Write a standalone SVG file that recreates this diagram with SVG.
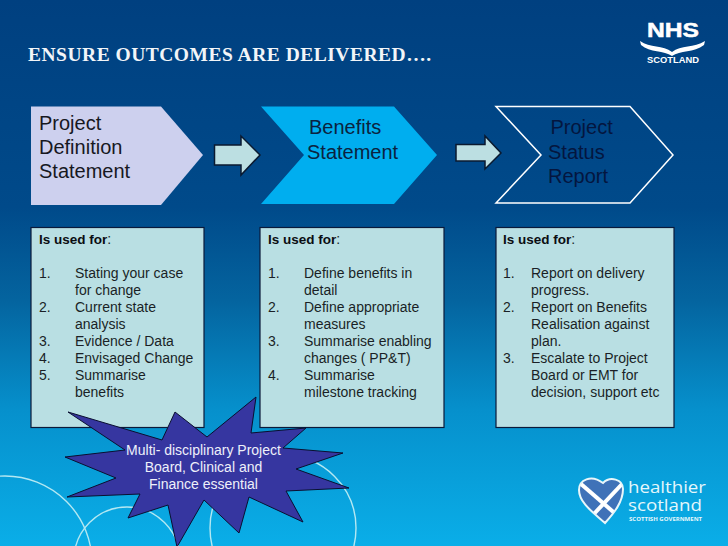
<svg xmlns="http://www.w3.org/2000/svg" width="728" height="546" viewBox="0 0 728 546">
<defs>
<linearGradient id="bg" x1="0" y1="0" x2="0" y2="1">
<stop offset="0" stop-color="#004080"/>
<stop offset="0.38" stop-color="#004a8a"/>
<stop offset="0.55" stop-color="#04649f"/>
<stop offset="0.75" stop-color="#0690cc"/>
<stop offset="1" stop-color="#0aaee8"/>
</linearGradient>
<clipPath id="heartClip"><path d="M605,523 C594,513 579,503 579,490 C579,480 591,474 603,483 C610,476 623,479 623,489 C623,502 614,513 605,523 Z"/></clipPath>
</defs>
<style>
.sans{font-family:"Liberation Sans",Arial,sans-serif}
.box{fill:#b9dfe3;stroke:#0a1a3a;stroke-width:1.2}
.body{font-size:14px;fill:#1a1f26}
.big{font-size:20px}
.arrow{fill:#bcdfe2;stroke:#0a1a30;stroke-width:1.5;stroke-linejoin:miter}
.ring{fill:none;stroke:#b4e8f2;stroke-width:1.4}
.star{font-size:14px;fill:#eef0fa;text-anchor:middle}
</style>
<rect width="728" height="546" fill="url(#bg)"/>
<g id="rings">
<circle class="ring" cx="5" cy="563" r="87"/>
<circle class="ring" cx="127" cy="560" r="53"/>
<circle class="ring" cx="283" cy="528" r="73"/>
</g>
<text id="title" x="28" y="61" font-family="Liberation Serif,serif" font-weight="bold" font-size="19.500" fill="#f2f5f8" textLength="403" lengthAdjust="spacing">ENSURE OUTCOMES ARE DELIVERED….</text>
<g id="nhs-logo" fill="#fff" class="sans">
<text x="647" y="37" font-size="21" font-weight="bold" textLength="52" lengthAdjust="spacingAndGlyphs" stroke="#fff" stroke-width="0.5">NHS</text>
<path d="M640,41 C650,48 663,45 672,52 C681,45 694,48 705,41 L704,45 C694,53 680,50 672,56 C664,50 650,53 641,45 Z"/>
<text x="647" y="63" font-size="8.600" font-weight="bold" textLength="52" lengthAdjust="spacingAndGlyphs">SCOTLAND</text>
</g>
<g id="node-project-definition">
<path d="M31,106.500 H161 L203,155 L161,205 H31 Z" fill="#cdd0ee"/>
<g class="sans big" fill="#17181f"><text x="39" y="130">Project</text><text x="39" y="154">Definition</text><text x="39" y="178">Statement</text></g>
</g>
<g id="node-benefits">
<path d="M261,106.500 H394 L437,155 L394,204 H261 L304,155 Z" fill="#00aeef"/>
<g class="sans big" fill="#0b2340"><text x="309" y="134">Benefits</text><text x="307" y="159">Statement</text></g>
</g>
<g id="node-status">
<path d="M496,106.500 H630 L673,155 L630,203 H496 L541,155 Z" fill="none" stroke="#fff" stroke-width="1.500"/>
<g class="sans big" fill="#04163f"><text x="550.500" y="134">Project</text><text x="548" y="159">Status</text><text x="548" y="183">Report</text></g>
</g>
<g id="connectors">
<path class="arrow" d="M214.500,145 H241 V136 L260,155 L241,175 V165 H214.500 Z"/>
<path class="arrow" d="M456,144.500 H485 V136 L501,153 L485,169 V161 H456 Z"/>
</g>
<g id="box-1" class="sans">
<rect class="box" x="31" y="227.500" width="173" height="200"/>
<g class="body">
<text x="39" y="244"><tspan font-weight="bold" fill="#0b0d12" font-size="13.500">Is used for</tspan>:</text>
<text x="39" y="278">1.</text><text x="75" y="278">Stating your case</text>
<text x="75" y="295">for change</text>
<text x="39" y="312">2.</text><text x="75" y="312">Current state</text>
<text x="75" y="329">analysis</text>
<text x="39" y="346">3.</text><text x="75" y="346">Evidence / Data</text>
<text x="39" y="363">4.</text><text x="75" y="363">Envisaged Change</text>
<text x="39" y="380">5.</text><text x="75" y="380">Summarise</text>
<text x="75" y="397">benefits</text>
</g>
</g>
<g id="box-2" class="sans">
<rect class="box" x="260" y="227.500" width="184" height="200"/>
<g class="body">
<text x="268" y="244"><tspan font-weight="bold" fill="#0b0d12" font-size="13.500">Is used for</tspan>:</text>
<text x="268" y="278">1.</text><text x="304" y="278">Define benefits in</text>
<text x="304" y="295">detail</text>
<text x="268" y="312">2.</text><text x="304" y="312">Define appropriate</text>
<text x="304" y="329">measures</text>
<text x="268" y="346">3.</text><text x="304" y="346">Summarise enabling</text>
<text x="304" y="363">changes ( PP&amp;T)</text>
<text x="268" y="380">4.</text><text x="304" y="380">Summarise</text>
<text x="304" y="397">milestone tracking</text>
</g>
</g>
<g id="box-3" class="sans">
<rect class="box" x="496" y="227.500" width="178" height="200"/>
<g class="body">
<text x="503" y="244"><tspan font-weight="bold" fill="#0b0d12" font-size="13.500">Is used for</tspan>:</text>
<text x="503" y="278">1.</text><text x="531" y="278">Report on delivery</text>
<text x="531" y="295">progress.</text>
<text x="503" y="312">2.</text><text x="531" y="312">Report on Benefits</text>
<text x="531" y="329">Realisation against</text>
<text x="531" y="346">plan.</text>
<text x="503" y="363">3.</text><text x="531" y="363">Escalate to Project</text>
<text x="531" y="380">Board or EMT for</text>
<text x="531" y="397">decision, support etc</text>
</g>
</g>
<g id="node-star" class="sans">
<path d="M68,412 L162,440 L175,412 L207,437 L256,397 L251,433 L306,428 L283,448 L343,453 L296,469 L349,488 L286,491 L303,522 L249,497 L239,533 L204,500 L177,547 L168,505 L128,518 L140,494 L67,497 L116,478 L65,457 L125,450 Z" fill="#3636a0" stroke="#0a0f30" stroke-width="1"/>
<text class="star" x="203.500" y="455">Multi- disciplinary Project</text>
<text class="star" x="203.500" y="472">Board, Clinical and</text>
<text class="star" x="203.500" y="489">Finance essential</text>
</g>
<g id="healthier-logo">
<path d="M605,523 C594,513 579,503 579,490 C579,480 591,474 603,483 C610,476 623,479 623,489 C623,502 614,513 605,523 Z" fill="#3f72b8"/>
<g clip-path="url(#heartClip)" stroke="#fff" stroke-width="4"><path d="M581,484 L618,516"/><path d="M622,484 L592,516"/></g>
<path d="M605,523 C594,513 579,503 579,490 C579,480 591,474 603,483 C610,476 623,479 623,489 C623,502 614,513 605,523 Z" fill="none" stroke="#e8f6fa" stroke-width="2"/>
<g font-family="Open Sans,sans-serif" fill="#e4f7fb">
<text x="628" y="493" font-size="17" textLength="78" lengthAdjust="spacingAndGlyphs">healthier</text>
<text x="628" y="511" font-size="17" textLength="74" lengthAdjust="spacingAndGlyphs">scotland</text>
<text x="629" y="521" font-size="6" font-weight="bold" textLength="73" lengthAdjust="spacingAndGlyphs">SCOTTISH GOVERNMENT</text>
</g>
</g>
</svg>
